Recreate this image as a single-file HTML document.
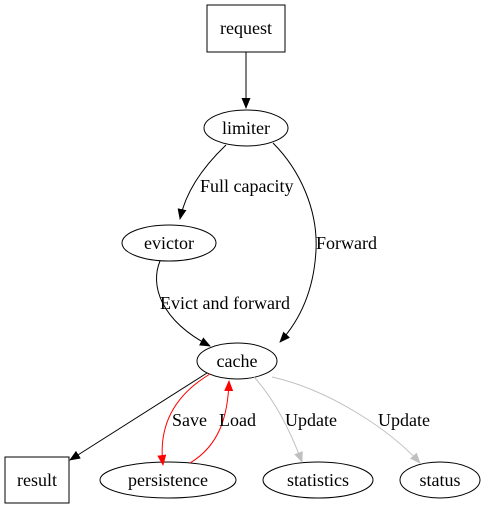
<!DOCTYPE html>
<html><head><meta charset="utf-8"><style>
html,body{margin:0;padding:0;background:#fff;}
svg{display:block;}
text{font-family:"Liberation Serif",serif;font-size:18px;fill:#000;}
</style></head><body>
<svg width="489" height="509" viewBox="0 0 489 509" xmlns="http://www.w3.org/2000/svg">
<defs>
<marker id="ab" markerWidth="11" markerHeight="9" refX="10" refY="4.5" orient="auto" markerUnits="userSpaceOnUse"><path d="M0,0 L11,4.5 L0,9 z" fill="#000"/></marker>
<marker id="ar" markerWidth="11" markerHeight="9" refX="10" refY="4.5" orient="auto" markerUnits="userSpaceOnUse"><path d="M0,0 L11,4.5 L0,9 z" fill="#f00"/></marker>
<marker id="ag" markerWidth="11" markerHeight="9" refX="10" refY="4.5" orient="auto" markerUnits="userSpaceOnUse"><path d="M0,0 L11,4.5 L0,9 z" fill="#c0c0c0"/></marker>
</defs>
<g fill="none" stroke="#000" stroke-width="1">
<rect x="207" y="5" width="78" height="47"/>
<ellipse cx="246" cy="128" rx="42" ry="18"/>
<ellipse cx="169" cy="243" rx="47" ry="18"/>
<ellipse cx="237" cy="361" rx="40" ry="18"/>
<rect x="5" y="457" width="64" height="46"/>
<ellipse cx="168" cy="480" rx="68" ry="18"/>
<ellipse cx="318" cy="480" rx="55" ry="18"/>
<ellipse cx="440" cy="480" rx="40" ry="18"/>
<path d="M246,52 L246,108" marker-end="url(#ab)"/>
<path d="M226,145 C205,165 186,190 180,219" marker-end="url(#ab)"/>
<path d="M273,143 C300,170 318,210 316,250 C314,290 300,320 280,342" marker-end="url(#ab)"/>
<path d="M160,261 C150,285 160,320 210,346" marker-end="url(#ab)"/>
<path d="M207,373 L70,460" marker-end="url(#ab)"/>
<path d="M210,374 C175,395 158,425 163,465" stroke="#f00" marker-end="url(#ar)"/>
<path d="M190,463 C220,445 228,415 229,381" stroke="#f00" marker-end="url(#ar)"/>
<path d="M254,377 C275,400 290,430 302,462" stroke="#c0c0c0" marker-end="url(#ag)"/>
<path d="M272,377 C330,390 390,430 420,463" stroke="#c0c0c0" marker-end="url(#ag)"/>
</g>
<text x="246" y="34" text-anchor="middle">request</text>
<text x="246" y="134" text-anchor="middle">limiter</text>
<text x="169" y="249" text-anchor="middle">evictor</text>
<text x="237" y="367" text-anchor="middle">cache</text>
<text x="37" y="486" text-anchor="middle">result</text>
<text x="168" y="486" text-anchor="middle">persistence</text>
<text x="318" y="486" text-anchor="middle">statistics</text>
<text x="440" y="486" text-anchor="middle">status</text>
<text x="200" y="192">Full capacity</text>
<text x="316" y="249">Forward</text>
<text x="160" y="309">Evict and forward</text>
<text x="172" y="426">Save</text>
<text x="219" y="426">Load</text>
<text x="285" y="426">Update</text>
<text x="378" y="426">Update</text>
</svg>
</body></html>
